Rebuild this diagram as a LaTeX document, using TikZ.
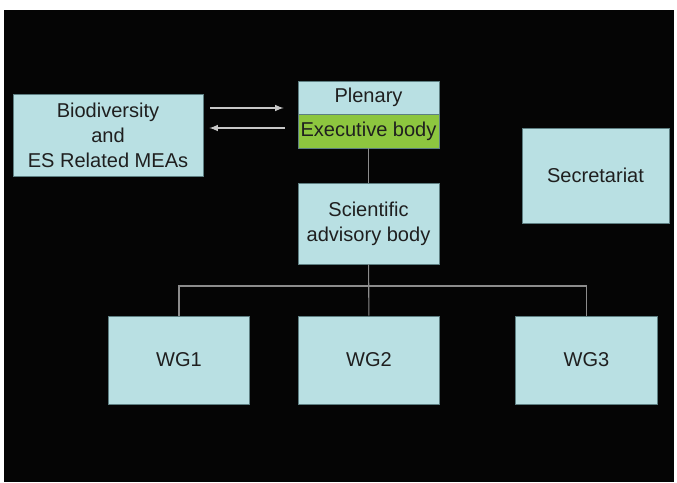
\documentclass[tikz,border=0pt]{standalone}
\usepackage{fontspec}
\setmainfont{Liberation Sans}
\usetikzlibrary{arrows,calc}
\tikzset{>=latex}
\definecolor{boxblue}{HTML}{B9E0E3}
\definecolor{execgreen}{HTML}{8DC63F}
\definecolor{boxline}{HTML}{5E7F82}
\definecolor{linkgray}{HTML}{8C8C8C}
\tikzstyle{bodybox}=[rectangle,draw=boxline,fill=boxblue,line width=0.4pt,text=black!88,align=center,inner sep=0pt,font=\fontsize{11.4}{14.2}\selectfont]
\tikzstyle{execbox}=[bodybox,fill=execgreen]
\tikzstyle{link}=[draw=linkgray,line width=0.6pt]
\tikzstyle{flow}=[draw=white!78!black,line width=0.7pt,->]

\begin{document}
\begin{tikzpicture}
\def \wgy {2.44};
\def \wgw {2.83};
\def \wgh {1.76};

\useasboundingbox (0,0) rectangle (13.54,9.64);
\fill[black!98] (0.08,0) rectangle (13.47,9.44);

\node[bodybox,minimum width=3.8cm,minimum height=1.64cm] (bio) at (2.16,6.94) {Biodiversity\\and\\ES Related MEAs};

\node[bodybox,minimum width=2.82cm,minimum height=0.66cm] (plenary) at (7.37,7.69) {Plenary};
\node[execbox,minimum width=2.82cm,minimum height=0.68cm] (exec) at (7.37,7.02) {Executive body};

\node[bodybox,minimum width=2.82cm,minimum height=1.62cm] (sci) at (7.37,5.17) {Scientific\\advisory body};

\node[bodybox,minimum width=2.94cm,minimum height=1.9cm] (sec) at (11.91,6.13) {Secretariat};

\node[bodybox,minimum width= \wgw cm,minimum height= \wgh cm] (WG1) at (3.58,\wgy) {WG1};
\node[bodybox,minimum width= \wgw cm,minimum height= \wgh cm] (WG2) at (7.38,\wgy) {WG2};
\node[bodybox,minimum width= \wgw cm,minimum height= \wgh cm] (WG3) at (11.73,\wgy) {WG3};

\coordinate (bus) at (7.38,3.92);

% MEAs <-> plenary
\draw[flow,shorten <=0.14cm,shorten >=0.28cm] ([yshift=0.54cm]bio.east) -- ([yshift=0.54cm]bio.east -| plenary.west);
\draw[flow,shorten <=0.26cm,shorten >=0.12cm] ([yshift=0.14cm]bio.east -| exec.west) -- ([yshift=0.14cm]bio.east);

\draw[link] (exec) -- (sci);
\draw[link] (sci) -- (WG2);
\draw[link] (WG1.north) |- (bus) -| (WG3.north);

\end{tikzpicture}
\end{document}
